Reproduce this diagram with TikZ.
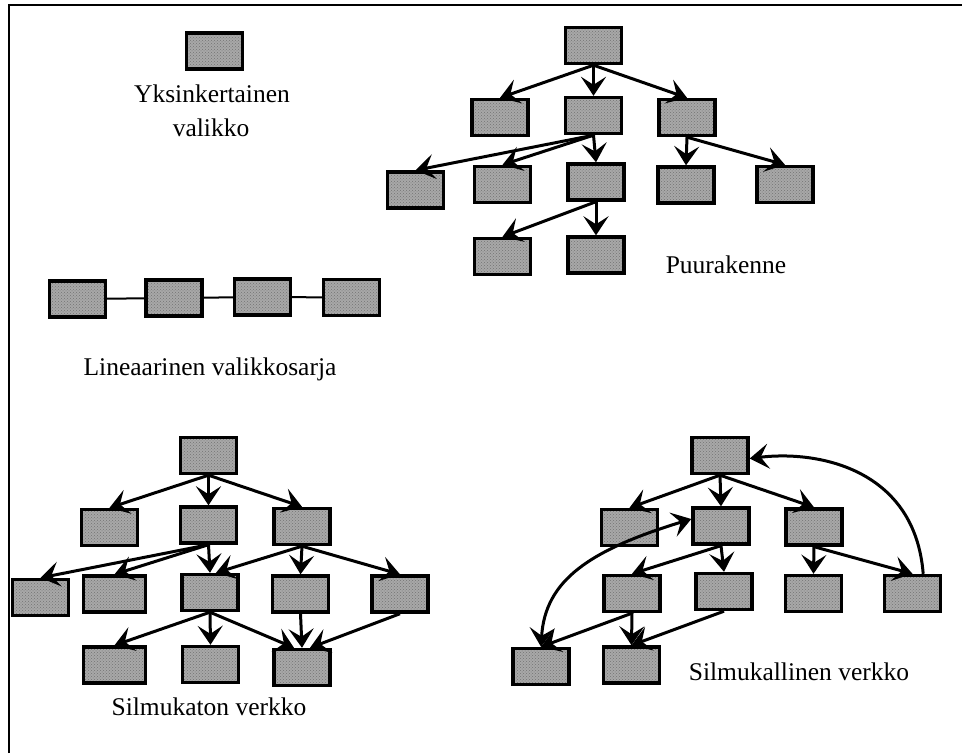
\documentclass[tikz,border=0pt]{standalone}
\usepackage{fontspec}
\setmainfont{Liberation Serif}
\usetikzlibrary{arrows.meta,patterns}
\definecolor{boxgray}{RGB}{168,168,168}
\begin{document}
\begin{tikzpicture}[x=1pt,y=-1pt,
 menubox/.style={draw=black, line width=3.4pt, preaction={fill=boxgray}, pattern=crosshatch dots, pattern color=black!55, minimum width=56pt, minimum height=36pt, inner sep=0pt},
 widebox/.style={menubox, minimum width=62pt},
 conn/.style={line width=3pt, -{Stealth[length=19pt,width=25pt,inset=8pt]}},
 dconn/.style={line width=3pt, {Stealth[length=19pt,width=25pt,inset=8pt]}-{Stealth[length=19pt,width=25pt,inset=8pt]}},
 plain/.style={line width=2pt},
 lbl/.style={font=\fontsize{25.5}{30}\selectfont, anchor=base, inner sep=0pt}]
\useasboundingbox (0,0) rectangle (962,753);
\draw[line width=2.4pt] (9,753) -- (9,5) -- (962,5);

% single menu
\node[menubox] (s0) at (214.5,51) {};
\node[lbl] (s0t1) at (212,102) {Yksinkertainen};
\node[lbl] (s0t2) at (211,136) {valikko};

% linear
\node[menubox] (l1) at (77.5,299) {};
\node[menubox] (l2) at (174,298) {};
\node[menubox] (l3) at (262.5,297) {};
\node[menubox] (l4) at (351.5,297.5) {};
\draw[plain] (l1) -- (l2);
\draw[plain] (l2) -- (l3);
\draw[plain] (l3) -- (l4);
\node[lbl] (lt) at (210,375) {Lineaarinen valikkosarja};

% tree
\node[menubox] (t0) at (593.5,45.5) {};
\node[menubox] (t1) at (500,117.5) {};
\node[menubox] (t2) at (593.5,115.5) {};
\node[menubox] (t3) at (687,117.5) {};
\node[menubox] (t4) at (415.5,190) {};
\node[menubox] (t5) at (502.5,184.5) {};
\node[menubox] (t6) at (596,182) {};
\node[menubox] (t7) at (686,185) {};
\node[menubox] (t8) at (785,184.5) {};
\node[menubox] (t9) at (502.5,256.5) {};
\node[menubox] (t10) at (596,255) {};
\draw[conn] (t0.south) -- (t1.north);
\draw[conn] (t0.south) -- (t2.north);
\draw[conn] (t0.south) -- (t3.north);
\draw[conn] (t2.south) -- (t4.north);
\draw[conn] (t2.south) -- (t5.north);
\draw[conn] (t2.south) -- (t6.north);
\draw[conn] (t3.south) -- (t7.north);
\draw[conn] (t3.south) -- (t8.north);
\draw[conn] (t6.south) -- (t9.north);
\draw[conn] (t6.south) -- (t10.north);
\node[lbl] (tt) at (726,273) {Puurakenne};

% acyclic network
\node[menubox] (a0) at (208.5,455.5) {};
\node[menubox] (a1) at (109.5,527.5) {};
\node[menubox] (a2) at (208.5,525) {};
\node[menubox] (a3) at (302,526.5) {};
\node[menubox] (a4) at (40.5,597.5) {};
\node[widebox] (a5) at (114.5,594) {};
\node[menubox] (a6) at (210,592.5) {};
\node[menubox] (a7) at (300.5,594) {};
\node[menubox] (a8) at (400,594) {};
\node[widebox] (a9) at (114.5,665) {};
\node[menubox] (a10) at (210.5,664.5) {};
\node[menubox] (a11) at (302,667.5) {};
\draw[conn] (a0.south) -- (a1.north);
\draw[conn] (a0.south) -- (a2.north);
\draw[conn] (a0.south) -- (a3.north);
\draw[conn] (a2.south) -- (a4.north);
\draw[conn] (a2.south) -- (a5.north);
\draw[conn] (a2.south) -- (a6.north);
\draw[conn] (a3.south) -- ([xshift=6pt]a6.north);
\draw[conn] (a3.south) -- (a7.north);
\draw[conn] (a3.south) -- (a8.north);
\draw[conn] (a6.south) -- (a9.north);
\draw[conn] (a6.south) -- (a10.north);
\draw[conn] (a6.south) -- ([xshift=-8pt]a11.north);
\draw[conn] (a7.south) -- (a11.north);
\draw[conn] (a8.south) -- ([xshift=8pt]a11.north);
\node[lbl] (at) at (209,715) {Silmukaton verkko};

% cyclic network
\node[menubox] (b0) at (720,455.5) {};
\node[menubox] (b1) at (629.5,527.5) {};
\node[menubox] (b2) at (721,526) {};
\node[menubox] (b3) at (814,527) {};
\node[menubox] (b4) at (632,593.5) {};
\node[menubox] (b5) at (724,591.5) {};
\node[menubox] (b6) at (813.5,593.5) {};
\node[menubox] (b7) at (912.5,593.5) {};
\node[menubox] (b8) at (541,666.5) {};
\node[menubox] (b9) at (631.5,665) {};
\draw[conn] (b0.south) -- (b1.north);
\draw[conn] (b0.south) -- (b2.north);
\draw[conn] (b0.south) -- (b3.north);
\draw[conn] (b2.south) -- (b4.north);
\draw[conn] (b2.south) -- (b5.north);
\draw[conn] (b3.south) -- (b6.north);
\draw[conn] (b3.south) -- (b7.north);
\draw[conn] (b4.south) -- (b8.north);
\draw[conn] (b4.south) -- (b9.north);
\draw[conn] (b5.south) -- (b9.north);
\coordinate (bL) at ([yshift=7pt]b2.west);
\draw[dconn] (b8.north) .. controls (545,580) and (590,550) .. (bL);
\coordinate (gs) at ([xshift=-19pt]b7.north east);
\coordinate (re) at ([yshift=-3pt]b0.east);
\draw[conn] (gs) .. controls (915,470) and (820,450) .. (re);
\node[lbl] (bt) at (799,680) {Silmukallinen verkko};
\end{tikzpicture}
\end{document}
